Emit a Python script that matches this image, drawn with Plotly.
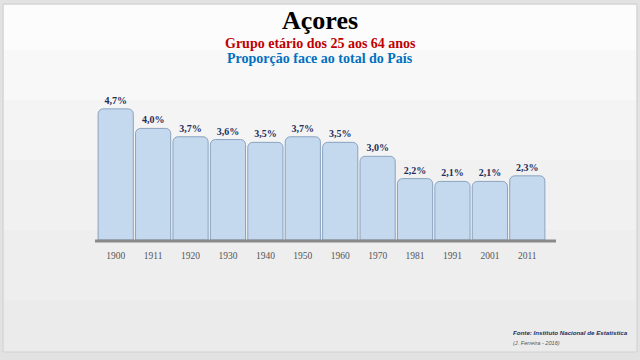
import plotly.graph_objects as go

years = ["1900", "1911", "1920", "1930", "1940", "1950", "1960", "1970", "1981", "1991", "2001", "2011"]
values = [4.7, 4.0, 3.7, 3.6, 3.5, 3.7, 3.5, 3.0, 2.2, 2.1, 2.1, 2.3]
labels = [f"<b>{v:.1f}%</b>".replace(".", ",") for v in values]

W, H = 640, 360
serif = "Liberation Serif, DejaVu Serif, serif"

fig = go.Figure()
fig.add_trace(go.Bar(
    x=years, y=values, text=labels, textposition="outside",
    textfont=dict(family=serif, size=10, color="#1f2d5c"),
    marker=dict(color="#c5d9ee", line=dict(color="#8aa3c0", width=1), cornerradius=5),
    cliponaxis=False, hoverinfo="skip",
))

fig.update_layout(
    width=W, height=H,
    margin=dict(l=0, r=0, t=0, b=0),
    paper_bgcolor="#e2e2e2", plot_bgcolor="rgba(0,0,0,0)",
    showlegend=False, bargap=0.06,
    xaxis=dict(domain=[97/W, 546/W], showgrid=False, zeroline=False, showline=False,
               ticks="", ticklabelstandoff=8,
               tickfont=dict(family=serif, size=9.5, color="#555555"),
               fixedrange=True),
    yaxis=dict(domain=[1 - 240/H, 1 - 80/H], range=[0, 160/27.9], visible=False,
               fixedrange=True),
)

def py(p):
    return 1 - p / H

# panel background (approximate gradient with bands)
fig.add_shape(type="rect", xref="paper", yref="paper", x0=3/W, x1=637/W, y0=py(352), y1=py(4),
              fillcolor="#ebebeb", line=dict(color="#d0d0d0", width=1), layer="below")
bands = [(4, 300, "#eeeeee"), (4, 230, "#f1f1f1"), (4, 160, "#f4f4f4"), (4, 100, "#f8f8f8"), (4, 50, "#fcfcfc")]
for top, bot, col in bands:
    fig.add_shape(type="rect", xref="paper", yref="paper", x0=4/W, x1=636/W, y0=py(bot), y1=py(top + 1),
                  fillcolor=col, line=dict(width=0), layer="below")
# baseline
fig.add_shape(type="line", xref="paper", yref="paper", x0=95/W, x1=556/W, y0=py(241), y1=py(241),
              line=dict(color="#8a8a8a", width=3))

fig.add_annotation(text="<b>Açores</b>", x=0.5, y=py(20), xref="paper", yref="paper", yanchor="middle",
                   showarrow=False, font=dict(family=serif, size=26, color="#000000"))
fig.add_annotation(text="<b>Grupo etário dos 25 aos 64 anos</b>", x=0.5, y=py(43), xref="paper", yref="paper",
                   yanchor="middle", showarrow=False, font=dict(family=serif, size=14, color="#c00000"))
fig.add_annotation(text="<b>Proporção face ao total do País</b>", x=0.5, y=py(59), xref="paper", yref="paper",
                   yanchor="middle", showarrow=False, font=dict(family=serif, size=14, color="#0070c0"))
fig.add_annotation(text="<b><i>Fonte: Instituto Nacional de Estatística</i></b>", x=511/W, y=py(332),
                   xref="paper", yref="paper", xanchor="left", yanchor="middle", showarrow=False,
                   font=dict(family="Liberation Sans, Arial, sans-serif", size=6.2, color="#1f2d5c"))
fig.add_annotation(text="<i>(J. Ferreira - 2016)</i>", x=511/W, y=py(343),
                   xref="paper", yref="paper", xanchor="left", yanchor="middle", showarrow=False,
                   font=dict(family="Liberation Sans, Arial, sans-serif", size=5.6, color="#555555"))

fig.write_html("out.html", config={"displayModeBar": False},
               post_script="document.body.style.margin='0';document.body.style.overflow='hidden';")
